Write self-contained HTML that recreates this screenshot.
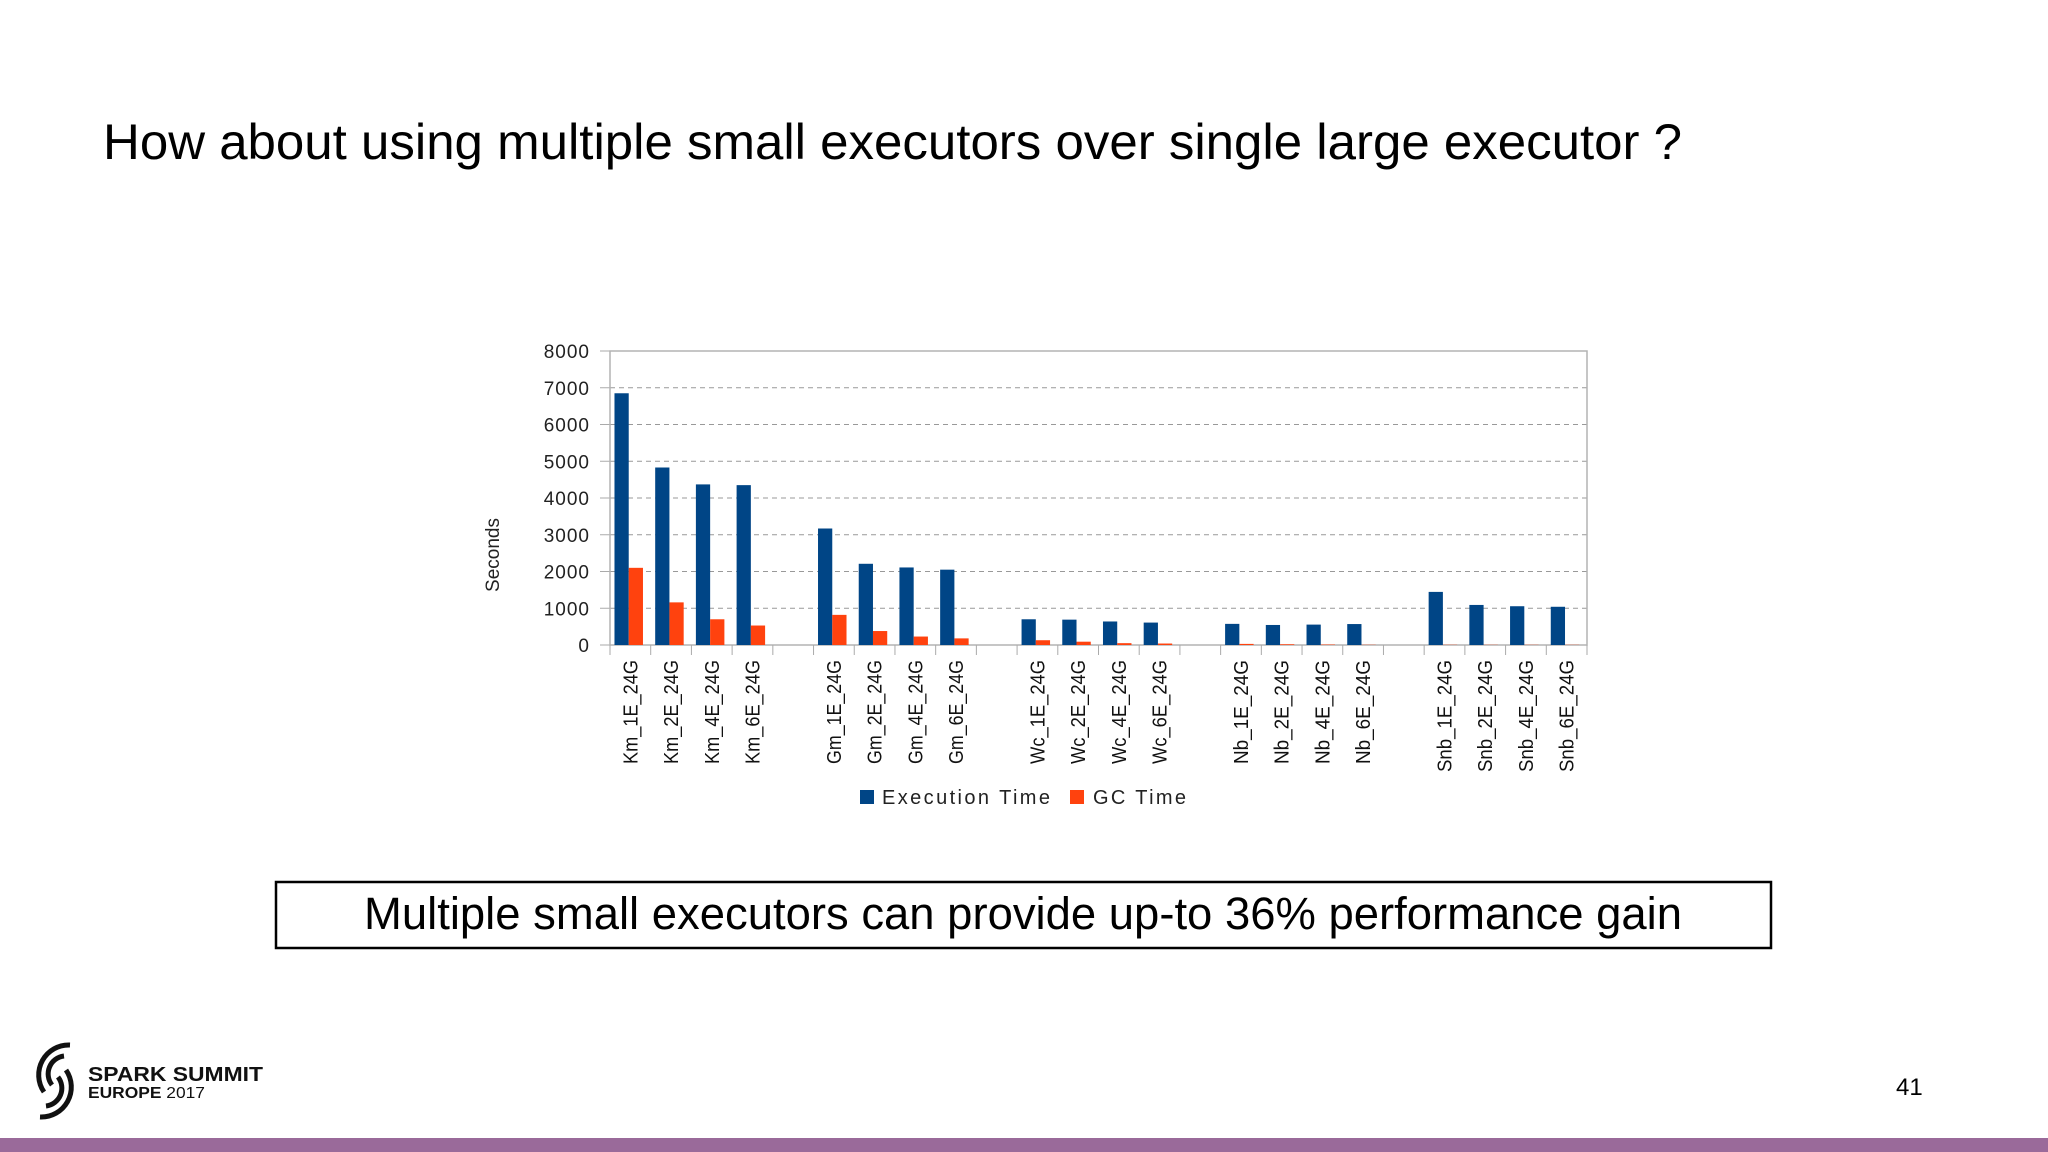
<!DOCTYPE html>
<html><head><meta charset="utf-8"><style>
html,body{margin:0;padding:0;background:#fff;}
svg{display:block;font-family:"Liberation Sans",sans-serif;}
</style></head><body>
<svg id="slide" width="2048" height="1152" viewBox="0 0 2048 1152" xmlns="http://www.w3.org/2000/svg">
<rect width="2048" height="1152" fill="#fff"/>
<text x="103" y="159" font-size="50" fill="#000" textLength="1579" lengthAdjust="spacingAndGlyphs">How about using multiple small executors over single large executor ?</text>
<g id="chart"></g>
<rect x="276" y="882" width="1495" height="66" fill="none" stroke="#000" stroke-width="2.5"/>
<text x="364" y="929" font-size="45" fill="#000" textLength="1318" lengthAdjust="spacingAndGlyphs">Multiple small executors can provide up-to 36% performance gain</text>
<text x="1896" y="1095" font-size="24" fill="#000">41</text>
<g>
<path d="M70,1045 A30,30 0 0 0 44,1092" fill="none" stroke="#111" stroke-width="5"/>
<path d="M64,1056 A18,18 0 0 0 52,1085" fill="none" stroke="#111" stroke-width="5"/>
<path d="M40,1117 A30,30 0 0 0 66,1070" fill="none" stroke="#111" stroke-width="5"/>
<path d="M46,1106 A18,18 0 0 0 58,1077" fill="none" stroke="#111" stroke-width="5"/>
<text x="88" y="1081" font-size="20" font-weight="bold" fill="#111" textLength="175" lengthAdjust="spacingAndGlyphs">SPARK SUMMIT</text>
<text x="88" y="1098" font-size="16" fill="#111" textLength="117" lengthAdjust="spacingAndGlyphs"><tspan font-weight="bold">EUROPE</tspan> 2017</text>
</g>
<rect x="0" y="1138" width="2048" height="14" fill="#9a6a9a"/>
</svg>
<script>
const categories=["Km_1E_24G","Km_2E_24G","Km_4E_24G","Km_6E_24G",null,"Gm_1E_24G","Gm_2E_24G","Gm_4E_24G","Gm_6E_24G",null,"Wc_1E_24G","Wc_2E_24G","Wc_4E_24G","Wc_6E_24G",null,"Nb_1E_24G","Nb_2E_24G","Nb_4E_24G","Nb_6E_24G",null,"Snb_1E_24G","Snb_2E_24G","Snb_4E_24G","Snb_6E_24G"];
const execTime=[6850,4830,4370,4350,null,3170,2210,2110,2050,null,700,690,640,610,null,575,545,555,570,null,1445,1090,1055,1040];
const gcTime=[2100,1160,700,530,null,820,380,230,180,null,130,90,50,40,null,30,20,12,6,null,6,5,5,5];
const yTicks=[0,1000,2000,3000,4000,5000,6000,7000,8000];
const NS="http://www.w3.org/2000/svg";
const g=document.getElementById('chart');
const L=610,R=1587,T=351,B=645,yMax=8000;
const slot=(R-L)/categories.length;
const y=v=>B-(v/yMax)*(B-T);
const x=i=>L+i*slot;
function mk(t,a){const e=document.createElementNS(NS,t);for(const k in a)e.setAttribute(k,a[k]);g.appendChild(e);return e;}
yTicks.forEach(v=>{
  if(v>0&&v<yMax){const l=mk('line',{x1:L,x2:R,y1:y(v),y2:y(v),stroke:'#999','stroke-dasharray':'5,4','stroke-width':1});
  
  }
  const tk=mk('line',{x1:L-10,x2:L,y1:y(v),y2:y(v),stroke:'#aaa'});
  
  
  const t=mk('text',{x:590,y:y(v)+7,'font-size':19,'text-anchor':'end',fill:'#222','letter-spacing':'1'});
  t.textContent=v;
  
  
});
const fr=mk('rect',{x:L,y:T,width:R-L,height:B-T,fill:'none',stroke:'#b3b3b3','stroke-width':1.5});


for(let i=0;i<=categories.length;i++){
  const tk=mk('line',{x1:x(i),x2:x(i),y1:B,y2:B+10,stroke:'#aaa'});
  
  
}
const bw=slot*0.35;
categories.forEach((c,i)=>{
  if(c===null)return;
  const x0=x(i)+slot*0.11;
  const b1=mk('rect',{x:x0,y:y(execTime[i]),width:bw,height:B-y(execTime[i]),fill:'#004586'});
  
  
  const b2=mk('rect',{x:x0+bw,y:y(gcTime[i]),width:bw,height:B-y(gcTime[i]),fill:'#ff420e'});
  
  
  const cx=x(i)+slot/2+7;
  const t=mk('text',{x:cx,y:660,'font-size':20,'text-anchor':'end',fill:'#111',transform:`rotate(-90 ${cx} 660)`,textLength:c.length>9?112:104,lengthAdjust:'spacingAndGlyphs'});
  t.textContent=c;
  
  
});
const yt=mk('text',{x:499,y:555,'font-size':19,'text-anchor':'middle',fill:'#222',transform:'rotate(-90 499 555)'});
yt.textContent='Seconds';


const s1=mk('rect',{x:860,y:790,width:14,height:14,fill:'#004586'});


const l1=mk('text',{x:882,y:804,'font-size':20,fill:'#222',textLength:168,lengthAdjust:'spacing'});
l1.textContent='Execution Time';


const s2=mk('rect',{x:1070,y:790,width:14,height:14,fill:'#ff420e'});


const l2=mk('text',{x:1093,y:804,'font-size':20,fill:'#222',textLength:93,lengthAdjust:'spacing'});
l2.textContent='GC Time';


</script>
</body></html>
